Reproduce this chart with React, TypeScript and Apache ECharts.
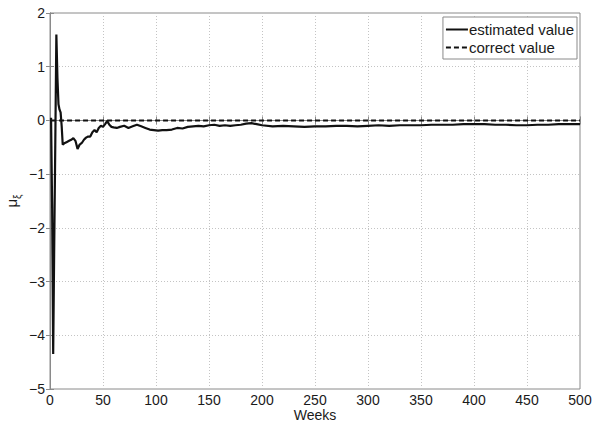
import React, { useEffect, useRef } from "react";
import * as echarts from "echarts";

const weeks = [1, 2, 3, 4, 5, 6, 7, 8, 9, 10, 11, 12, 14, 16, 18, 20, 22, 24, 26, 28, 30, 32, 34, 36, 38, 40, 42, 44, 46, 48, 50, 52, 54, 56, 58, 60, 63, 66, 70, 74, 78, 82, 86, 90, 94, 98, 102, 106, 110, 115, 120, 125, 130, 135, 140, 145, 150, 155, 160, 165, 170, 175, 180, 185, 190, 195, 200, 210, 220, 230, 240, 250, 260, 270, 280, 290, 300, 310, 320, 330, 340, 350, 360, 370, 380, 390, 400, 410, 420, 430, 440, 450, 460, 470, 480, 490, 500];
const estimated = [0.05, -1.6, -4.35, -2.3, -0.4, 1.6, 0.8, 0.3, 0.2, 0.15, -0.1, -0.45, -0.42, -0.4, -0.38, -0.36, -0.33, -0.38, -0.53, -0.45, -0.42, -0.36, -0.32, -0.3, -0.3, -0.22, -0.18, -0.22, -0.14, -0.1, -0.12, -0.07, -0.01, -0.08, -0.12, -0.13, -0.14, -0.12, -0.1, -0.14, -0.11, -0.08, -0.11, -0.14, -0.17, -0.18, -0.19, -0.18, -0.18, -0.17, -0.14, -0.15, -0.12, -0.11, -0.1, -0.11, -0.09, -0.08, -0.1, -0.09, -0.1, -0.09, -0.08, -0.06, -0.05, -0.07, -0.09, -0.11, -0.1, -0.11, -0.12, -0.11, -0.11, -0.1, -0.1, -0.11, -0.1, -0.09, -0.1, -0.09, -0.09, -0.09, -0.08, -0.08, -0.08, -0.07, -0.07, -0.07, -0.08, -0.08, -0.09, -0.09, -0.08, -0.08, -0.07, -0.07, -0.07];
const correctWeeks = [1, 500];
const correctValues = [0, 0];

const FONT = "'Liberation Sans', Arial, sans-serif";
const TEXT = "#1a1a1a";
const AXIS = "#8a8a8a";

export default function App() {
  const ref = useRef<HTMLDivElement>(null);
  useEffect(() => {
    const chart = echarts.init(ref.current!, null, { renderer: "svg" });
    const commonX = {
      type: "value" as const,
      min: 0,
      max: 500,
      interval: 50,
    };
    const commonY = {
      type: "value" as const,
      min: -5,
      max: 2,
      interval: 1,
    };
    chart.setOption({
      animation: false,
      backgroundColor: "#ffffff",
      textStyle: { fontFamily: FONT },
      grid: {
        left: 50,
        right: 13,
        top: 13,
        bottom: 34,
        containLabel: false,
        outerBoundsMode: "none",
        show: true,
        borderColor: AXIS,
        borderWidth: 1,
      },
      legend: {
        orient: "vertical",
        right: 16,
        top: 17,
        itemWidth: 22,
        itemHeight: 14,
        itemGap: 3,
        padding: [5, 3, 4, 2],
        borderColor: AXIS,
        borderWidth: 1,
        backgroundColor: "#ffffff",
        itemStyle: { opacity: 0 },
        textStyle: { fontSize: 15, color: TEXT, fontFamily: FONT, padding: [0, 0, 0, -4] },
        data: ["estimated value", "correct value"],
      },
      xAxis: [
        {
          ...commonX,
          position: "bottom",
          name: "Weeks",
          nameLocation: "middle",
          nameGap: 19,
          nameMoveOverlap: false,
          nameTextStyle: { fontSize: 14, color: TEXT, fontFamily: FONT, verticalAlign: "top", lineHeight: 14 },
          axisLine: { show: true, lineStyle: { color: AXIS } },
          axisTick: { show: true, inside: true, length: 4, lineStyle: { color: AXIS } },
          axisLabel: { fontSize: 14, color: TEXT, margin: 4, fontFamily: FONT, lineHeight: 14 },
          splitLine: { show: true, lineStyle: { color: "#c4c4c4", type: [1, 2], width: 1 } },
        },
        {
          ...commonX,
          position: "top",
          axisLine: { show: true, lineStyle: { color: AXIS } },
          axisTick: { show: true, inside: true, length: 4, lineStyle: { color: AXIS } },
          axisLabel: { show: false },
          splitLine: { show: false },
        },
      ],
      yAxis: [
        {
          ...commonY,
          position: "left",
          name: "{a|μ}{b|ξ}",
          nameLocation: "middle",
          nameGap: 28,
          nameRotate: 90,
          nameMoveOverlap: false,
          nameTextStyle: {
            rich: {
              a: { fontSize: 15, color: TEXT, fontFamily: FONT, lineHeight: 22 },
              b: { fontSize: 10, color: TEXT, fontFamily: FONT, lineHeight: 22, verticalAlign: "bottom" },
            },
          },
          axisLine: { show: true, lineStyle: { color: AXIS } },
          axisTick: { show: true, inside: true, length: 4, lineStyle: { color: AXIS } },
          axisLabel: {
            fontSize: 14,
            color: TEXT,
            margin: 5,
            fontFamily: FONT,
            formatter: (v: number) => String(v).replace("-", "\u2212"),
          },
          splitLine: { show: true, lineStyle: { color: "#c4c4c4", type: [1, 2], width: 1 } },
        },
        {
          ...commonY,
          position: "right",
          axisLine: { show: true, lineStyle: { color: AXIS } },
          axisTick: { show: true, inside: true, length: 4, lineStyle: { color: AXIS } },
          axisLabel: { show: false },
          splitLine: { show: false },
        },
      ],
      series: [
        {
          name: "correct value",
          type: "line",
          xAxisIndex: 0,
          yAxisIndex: 0,
          showSymbol: false,
          symbol: "none",
          data: correctWeeks.map((w, i) => [w, correctValues[i]]),
          lineStyle: { color: "#111111", width: 2, type: [5, 3] },
          itemStyle: { color: "#111111" },
          z: 2,
        },
        {
          name: "estimated value",
          type: "line",
          xAxisIndex: 0,
          yAxisIndex: 0,
          showSymbol: false,
          symbol: "none",
          data: weeks.map((w, i) => [w, estimated[i]]),
          lineStyle: { color: "#111111", width: 2.2 },
          itemStyle: { color: "#111111" },
          z: 3,
        },
      ],
    });
    return () => chart.dispose();
  }, []);
  return <div ref={ref} style={{ width: 593, height: 423, position: "absolute", left: 0, top: 0 }} />;
}
